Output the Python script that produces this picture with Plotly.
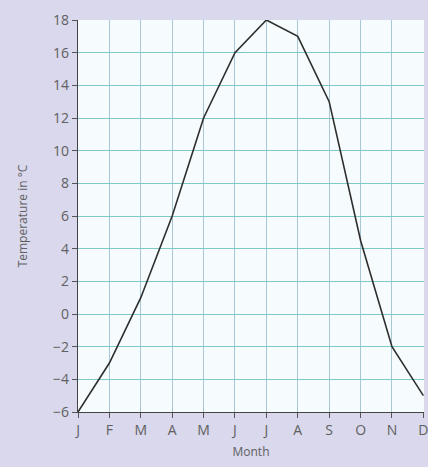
import plotly.graph_objects as go

months = ["J", "F", "M", "A", "M", "J", "J", "A", "S", "O", "N", "D"]
temperature = [-6, -3, 1, 6, 12, 16, 18, 17, 13, 4.5, -2, -5]
y_ticks = [-6, -4, -2, 0, 2, 4, 6, 8, 10, 12, 14, 16, 18]
y_labels = [("\u2212" + str(-v)) if v < 0 else str(v) for v in y_ticks]

x_pos = list(range(len(months)))

fig = go.Figure()
fig.add_trace(go.Scatter(
    x=x_pos, y=temperature, mode="lines",
    line=dict(color="#2e2e2e", width=1.6),
    cliponaxis=False, showlegend=False,
))

fig.update_layout(
    width=428, height=467,
    margin=dict(l=78, r=0, t=20, b=55),
    paper_bgcolor="#d9d8ec",
    plot_bgcolor="#f6fcfd",
    font=dict(family="Open Sans, Liberation Sans, sans-serif", color="#606060", size=14),
    xaxis=dict(
        range=[0, 11.02],
        tickvals=x_pos, ticktext=months,
        ticklabeloverflow="allow",
        showgrid=True, gridcolor="#a9c6d4", gridwidth=1,
        showline=True, linecolor="#444444", linewidth=1.2,
        ticks="outside", ticklen=5, tickcolor="#555555",
        zeroline=False,
        title=dict(text="Month", font=dict(size=12, color="#606060"), standoff=9),
    ),
    yaxis=dict(
        range=[-6, 18],
        tickvals=y_ticks, ticktext=y_labels,
        showgrid=True, gridcolor="#7fc8c8", gridwidth=1.2,
        showline=True, linecolor="#444444", linewidth=1.2,
        ticks="outside", ticklen=5, tickcolor="#555555",
        zeroline=False,
        title=dict(text="Temperature in \u00b0C", font=dict(size=12, color="#606060"), standoff=22),
    ),
)

fig.write_html(
    "out.html",
    config={"displayModeBar": False},
    post_script="document.body.style.margin='0';document.body.style.overflow='hidden';",
)
